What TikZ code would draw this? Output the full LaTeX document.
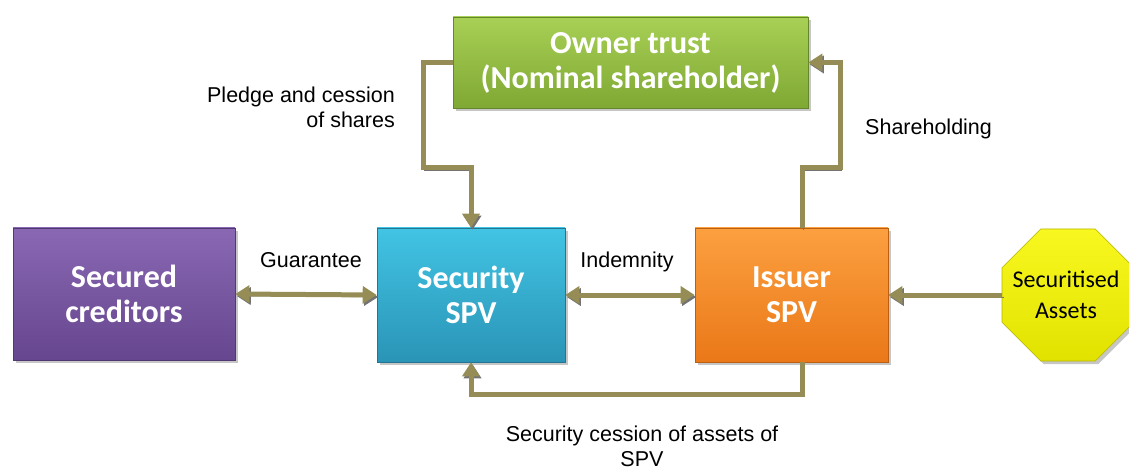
\documentclass[tikz,border=0pt]{standalone}
\usepackage{fontspec}
\setmainfont{Liberation Sans}
\newfontfamily\boxfont{Carlito}
\usetikzlibrary{arrows.meta,shadows,calc}
\definecolor{olive}{HTML}{958D55}
\definecolor{gtop}{HTML}{A8D055}
\definecolor{gbot}{HTML}{7FA834}
\definecolor{ptop}{HTML}{8A68B4}
\definecolor{pbot}{HTML}{66468E}
\definecolor{btop}{HTML}{42C4E4}
\definecolor{bbot}{HTML}{2A94B6}
\definecolor{otop}{HTML}{FCA040}
\definecolor{obot}{HTML}{EA7818}
\definecolor{ytop}{HTML}{F8F820}
\definecolor{ybot}{HTML}{E2E200}
\tikzset{
  boxshadow/.style={drop shadow={opacity=0.45, shadow xshift=3pt, shadow yshift=-3pt}},
  entity/.style={rectangle, inner sep=0pt, align=center, text=white,
    font=\boxfont\bfseries\fontsize{32}{35}\selectfont, boxshadow, line width=0.6pt},
  lbl/.style={inner sep=0pt, font=\fontsize{21.5}{25}\selectfont},
  conn/.style={draw=olive, line width=5pt, line join=miter,
    arrows={-Triangle[width=17pt,length=14pt]},
    preaction={draw=black!55, transform canvas={xshift=1.5pt,yshift=-2pt}}},
  dconn/.style={conn, arrows={Triangle[width=17pt,length=14pt]-Triangle[width=17pt,length=14pt]}}
}
\begin{document}
\begin{tikzpicture}[x=1pt,y=-1pt]
\useasboundingbox (0,0) rectangle (1129,470);
% boxes
\node[entity, minimum width=355pt, minimum height=91pt, top color=gtop, bottom color=gbot, draw=gbot!80!black]
  (owner) at (630.5,62.5) {Owner trust\\(Nominal shareholder)};
\node[entity, minimum width=222pt, minimum height=132pt, top color=ptop, bottom color=pbot, draw=pbot!80!black]
  (cred) at (124,294) {Secured\\creditors};
\node[entity, minimum width=188pt, minimum height=134pt, top color=btop, bottom color=bbot, draw=bbot!80!black]
  (sec) at (471,295) {Security\\SPV};
\node[entity, minimum width=193pt, minimum height=134pt, top color=otop, bottom color=obot, draw=obot!80!black]
  (iss) at (791.5,295) {Issuer\\SPV};
% octagon (Securitised Assets)
\path[top color=ytop, bottom color=ybot, draw=ybot!80!black, line width=0.6pt, boxshadow]
  (1040.7,229) -- (1095.3,229) -- (1134,267.7) -- (1134,322.3) -- (1095.3,361)
  -- (1040.7,361) -- (1002,322.3) -- (1002,267.7) -- cycle;
\node[inner sep=0pt, align=center, font=\boxfont\fontsize{24}{31}\selectfont]
  (assets) at (1066,295) {Securitised\\Assets};
\coordinate (assetsW) at (1002,295);
% connectors
\draw[conn] (owner.west) -| (423,168) -| (sec.north);
\draw[conn] ([xshift=10.5pt]iss.north) |- (840,168) |- (owner.east);
\draw[conn] ([xshift=10.5pt]iss.south) -- ++(0,32) -| (sec.south);
\draw[dconn] (cred.east) -- (sec.west);
\draw[dconn] (sec.east) -- (iss.west);
\draw[conn] (assetsW) -- (iss.east);
% labels
\node[lbl, align=right, anchor=base east] (lpledge) at (395,128) {Pledge and cession\\of shares};
\node[lbl, anchor=base west] (lshare) at (865,135) {Shareholding};
\node[lbl, anchor=base] (lguar) at (311,268) {Guarantee};
\node[lbl, anchor=base] (lind) at (627,268) {Indemnity};
\node[lbl, align=center, anchor=base] (lcess) at (642,466) {Security cession of assets of\\SPV};
\end{tikzpicture}
\end{document}
